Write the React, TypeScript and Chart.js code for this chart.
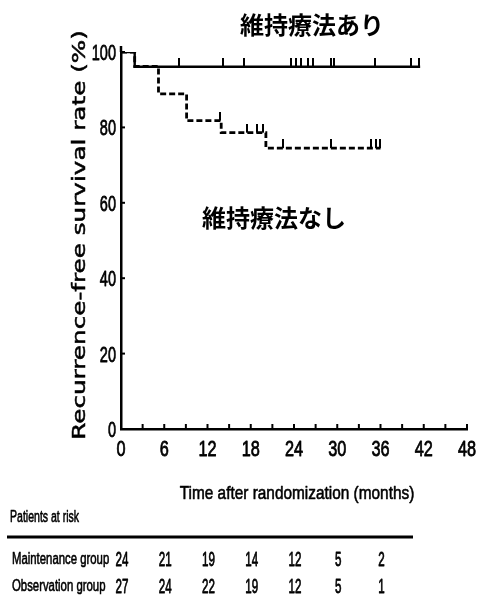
import React, { useEffect, useRef } from 'react';
import { Chart, registerables } from 'chart.js';

Chart.register(...registerables);

// ---------- data ----------
const maintenanceTimes = [0, 1.9, 41.5];
const maintenanceRates = [100, 96.1, 96.1];
const observationTimes = [0, 1.9, 5.2, 9.1, 13.9, 20.1, 36.0];
const observationRates = [100, 96.2, 88.9, 81.8, 78.6, 74.5, 74.5];

const maintenanceCensorTimes = [8.1, 14.2, 17.1, 23.6, 24.3, 25.0, 25.9, 26.6, 29.2, 29.5, 35.2, 40.2, 41.4];
const maintenanceCensorRates = [96.1, 96.1, 96.1, 96.1, 96.1, 96.1, 96.1, 96.1, 96.1, 96.1, 96.1, 96.1, 96.1];
const observationCensorTimes = [13.8, 17.5, 18.8, 19.7, 22.5, 29.2, 34.7, 35.4, 35.9];
const observationCensorRates = [81.8, 78.6, 78.6, 78.6, 74.5, 74.5, 74.5, 74.5, 74.5];

const xTickMarkMonths = [0, 3, 6, 9, 12, 15, 18, 21, 24, 27, 30, 33, 36, 39, 42, 45, 48];
const yTickMarkValues = [0, 20, 40, 60, 80, 100];

const atRiskMonths = [0, 6, 12, 18, 24, 30, 36];
const maintenanceAtRisk = [24, 21, 19, 14, 12, 5, 2];
const observationAtRisk = [27, 24, 22, 19, 12, 5, 1];
const groupNames = ['Maintenance group', 'Observation group'];
const atRiskTitle = 'Patients at risk';

const xTitle = 'Time after randomization (months)';
const yTitle = 'Recurrence-free survival rate (%)';
const labelWith = '維持療法あり';
const labelWithout = '維持療法なし';

const SANS = '"Liberation Sans", Arial, sans-serif';

function toPoints(xs: number[], ys: number[]) {
  return xs.map((x, i) => ({ x, y: ys[i] }));
}

function scaledText(ctx: CanvasRenderingContext2D, text: string, x: number, y: number, font: string, sx: number, align: CanvasTextAlign, weight = 0.6) {
  ctx.save();
  ctx.translate(x, y);
  ctx.scale(sx, 1);
  ctx.font = font;
  ctx.textAlign = align;
  ctx.textBaseline = 'alphabetic';
  ctx.fillStyle = '#000';
  ctx.fillText(text, 0, 0);
  if (weight > 0) {
    ctx.strokeStyle = '#000';
    ctx.lineWidth = weight;
    ctx.lineJoin = 'round';
    ctx.strokeText(text, 0, 0);
  }
  ctx.restore();
}

const extrasPlugin = {
  id: 'extras',
  afterDraw(chart: any) {
    const ctx: CanvasRenderingContext2D = chart.ctx;
    const xs = chart.scales.x;
    const ys = chart.scales.y;
    ctx.save();
    ctx.strokeStyle = '#000';
    ctx.lineWidth = 2;
    // inward tick marks on x axis
    for (const m of xTickMarkMonths) {
      const px = xs.getPixelForValue(m);
      ctx.beginPath();
      ctx.moveTo(px, xs.top);
      ctx.lineTo(px, xs.top - 5);
      ctx.stroke();
    }
    // inward tick marks on y axis
    for (const v of yTickMarkValues) {
      const py = ys.getPixelForValue(v);
      ctx.beginPath();
      ctx.moveTo(ys.right, py);
      ctx.lineTo(ys.right + 4, py);
      ctx.stroke();
    }
    // small extension of y axis above 100
    ctx.lineWidth = 2.5;
    ctx.beginPath();
    ctx.moveTo(ys.right, ys.top);
    ctx.lineTo(ys.right, ys.top - 6);
    ctx.stroke();
    ctx.restore();

    // condensed tick labels at the scales' own tick values
    for (const t of xs.ticks) {
      const px = xs.getPixelForValue(t.value);
      scaledText(ctx, String(t.value), px, xs.top + 26.5, `22px ${SANS}`, 0.74, 'center', 0.8);
    }
    for (const t of ys.ticks) {
      const py = ys.getPixelForValue(t.value);
      scaledText(ctx, String(t.value), ys.right - 5, py + 8, `22px ${SANS}`, 0.66, 'right', 0.8);
    }

    // y axis title (stretched along its length)
    ctx.save();
    ctx.translate(84.5, 235);
    ctx.rotate(-Math.PI / 2);
    ctx.scale(1.37, 1);
    ctx.font = '18px "DejaVu Sans", Verdana, sans-serif';
    ctx.textAlign = 'center';
    ctx.textBaseline = 'alphabetic';
    ctx.fillStyle = '#000';
    ctx.fillText(yTitle, 0, 0);
    ctx.strokeStyle = '#000';
    ctx.lineWidth = 0.5;
    ctx.strokeText(yTitle, 0, 0);
    ctx.restore();

    // x axis title
    scaledText(ctx, xTitle, 297, 499, `19px ${SANS}`, 0.81, 'center', 0.6);

    // group labels (Japanese)
    ctx.save();
    ctx.font = 'bold 24px "Noto Sans CJK JP", sans-serif';
    ctx.textAlign = 'left';
    ctx.textBaseline = 'middle';
    ctx.fillStyle = '#000';
    ctx.fillText(labelWith, 240, 25);
    ctx.fillText(labelWithout, 202, 218);
    ctx.restore();

    // patients at risk table
    scaledText(ctx, atRiskTitle, 10, 522, `17px ${SANS}`, 0.62, 'left', 0.6);
    ctx.save();
    ctx.strokeStyle = '#000';
    ctx.lineWidth = 3;
    ctx.beginPath();
    ctx.moveTo(7, 537);
    ctx.lineTo(413, 537);
    ctx.stroke();
    ctx.restore();
    const rows = [maintenanceAtRisk, observationAtRisk];
    const rowBase = [564, 591];
    rows.forEach((vals, r) => {
      scaledText(ctx, groupNames[r], 12, rowBase[r], `16px ${SANS}`, 0.71, 'left', 0.6);
      vals.forEach((v, i) => {
        const px = xs.getPixelForValue(atRiskMonths[i]) + 1;
        scaledText(ctx, String(v), px, rowBase[r] + 2, `20px ${SANS}`, 0.58, 'center', 0.8);
      });
    });
  },
};

export default function App() {
  const ref = useRef<HTMLCanvasElement | null>(null);
  useEffect(() => {
    if (!ref.current) return;
    const mark = document.createElement('canvas');
    mark.width = 2;
    mark.height = 18;
    const mctx = mark.getContext('2d')!;
    mctx.fillStyle = '#000';
    mctx.fillRect(0, 0, 2, 9);

    const chart = new Chart(ref.current, {
      type: 'line',
      data: {
        datasets: [
          {
            label: 'Maintenance',
            data: toPoints(maintenanceTimes, maintenanceRates),
            stepped: 'before',
            borderColor: '#000',
            borderWidth: 2.4,
            pointRadius: 0,
            fill: false,
          },
          {
            label: 'Observation',
            data: toPoints(observationTimes, observationRates),
            stepped: 'before',
            borderColor: '#000',
            borderWidth: 2.8,
            borderDash: [6, 3],
            pointRadius: 0,
            fill: false,
          },
          {
            label: 'Maintenance censored',
            data: toPoints(maintenanceCensorTimes, maintenanceCensorRates),
            showLine: false,
            pointStyle: mark as any,
            pointRadius: 5,
          },
          {
            label: 'Observation censored',
            data: toPoints(observationCensorTimes, observationCensorRates),
            showLine: false,
            pointStyle: mark as any,
            pointRadius: 5,
          },
        ] as any,
      },
      options: {
        animation: false,
        responsive: true,
        maintainAspectRatio: false,
        layout: { padding: { top: 52, right: 10, left: 0, bottom: 0 } },
        plugins: { legend: { display: false }, tooltip: { enabled: false } },
        scales: {
          x: {
            type: 'linear',
            min: 0,
            max: 48,
            afterFit: (s: any) => { s.height = 178; },
            grid: { display: false, drawTicks: false },
            border: { display: true, color: '#000', width: 2.5 },
            ticks: { stepSize: 6, display: false, maxRotation: 0, autoSkip: false },
          },
          y: {
            type: 'linear',
            min: 0,
            max: 100,
            afterFit: (s: any) => { s.width = 121; },
            grid: { display: false, drawTicks: false },
            border: { display: true, color: '#000', width: 2.5 },
            ticks: { stepSize: 20, display: false },
          },
        },
      } as any,
      plugins: [extrasPlugin],
    });
    return () => chart.destroy();
  }, []);
  return (
    <div style={{ position: 'absolute', left: 0, top: 0, width: 477, height: 607, background: '#fff' }}>
      <canvas ref={ref} />
    </div>
  );
}
